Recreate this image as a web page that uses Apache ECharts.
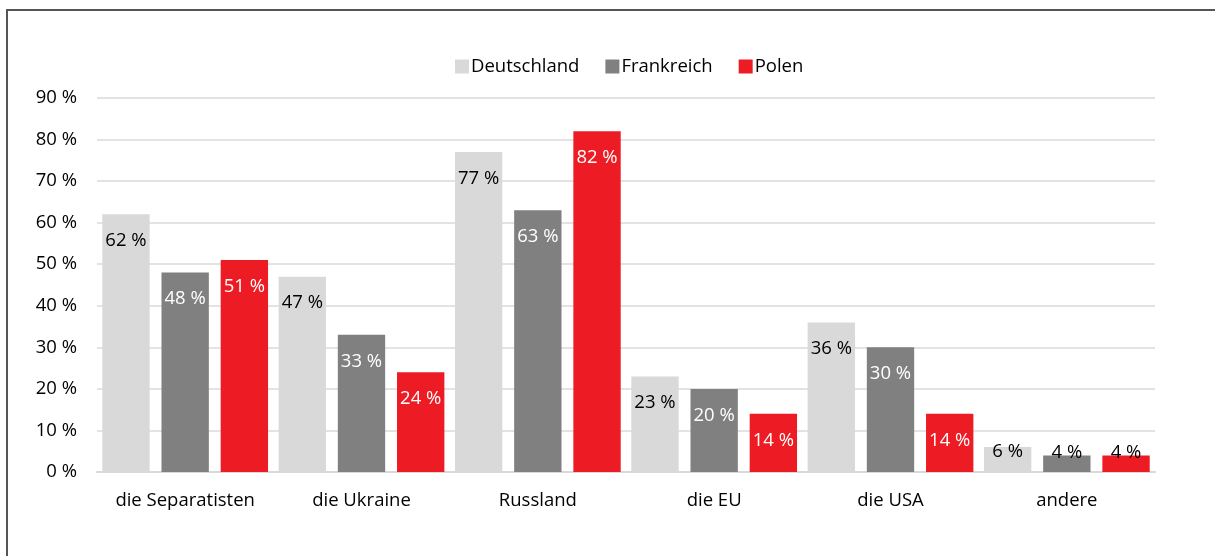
<!DOCTYPE html>
<html>
<head>
<meta charset="utf-8">
<script src="https://cdn.jsdelivr.net/npm/echarts@6/dist/echarts.min.js"></script>
<style>
  html, body { margin: 0; padding: 0; background: #fff; }
  #chart { width: 1215px; height: 556px; }
</style>
</head>
<body>
<div id="chart"></div>
<script>
const categories = ['die Separatisten', 'die Ukraine', 'Russland', 'die EU', 'die USA', 'andere'];
const deutschland = [62, 47, 77, 23, 36, 6];
const frankreich = [48, 33, 63, 20, 30, 4];
const polen = [51, 24, 82, 14, 14, 4];
const yTicks = [0, 10, 20, 30, 40, 50, 60, 70, 80, 90];

const FONT = 'Open Sans';
const SIZE = 18.5;
const chart = echarts.init(document.getElementById('chart'));

// small bars get their label on top, black
const smallLabel = (v) => ({
  offset: [0, v >= 6 ? -22 : -29],
  color: '#000'
});

const makeSeries = (name, data, color, labelColor) => ({
  name,
  type: 'bar',
  data: data.map((v) => (v < 10 ? { value: v, label: smallLabel(v) } : v)),
  itemStyle: { color },
  barGap: '25%',
  barCategoryGap: '6%',
  label: {
    show: true,
    position: 'insideTop',
    distance: 17,
    color: labelColor,
    fontFamily: FONT,
    fontSize: SIZE,
    formatter: '{c} %'
  }
});

chart.setOption({
  animation: false,
  textStyle: { fontFamily: FONT },
  graphic: [
    {
      type: 'rect',
      shape: { x: 7, y: 10, width: 1300, height: 700 },
      style: { fill: 'none', stroke: '#555', lineWidth: 2 }
    }
  ],
  legend: {
    top: 52,
    left: 450,
    itemWidth: 14,
    itemHeight: 14,
    itemGap: 26,
    icon: 'rect',
    textStyle: { fontFamily: FONT, fontSize: SIZE, color: '#000', padding: [0, 0, 0, -3] },
    data: ['Deutschland', 'Frankreich', 'Polen']
  },
  grid: { left: 97, right: 60, top: 98, bottom: 84 },
  xAxis: {
    type: 'category',
    data: categories,
    axisTick: { show: false },
    axisLine: { lineStyle: { color: '#d9d9d9', width: 2 } },
    axisLabel: { color: '#000', fontFamily: FONT, fontSize: SIZE, margin: 19, interval: 0 }
  },
  yAxis: {
    type: 'value',
    min: yTicks[0],
    max: yTicks[yTicks.length - 1],
    interval: 10,
    axisLabel: {
      color: '#000',
      fontFamily: FONT,
      fontSize: SIZE,
      margin: 20,
      formatter: '{value} %'
    },
    splitLine: { lineStyle: { color: '#e3e3e3', width: 2 } }
  },
  series: [
    makeSeries('Deutschland', deutschland, '#d9d9d9', '#000'),
    makeSeries('Frankreich', frankreich, '#808080', '#fff'),
    makeSeries('Polen', polen, '#ed1c24', '#fff')
  ]
});
</script>
</body>
</html>
